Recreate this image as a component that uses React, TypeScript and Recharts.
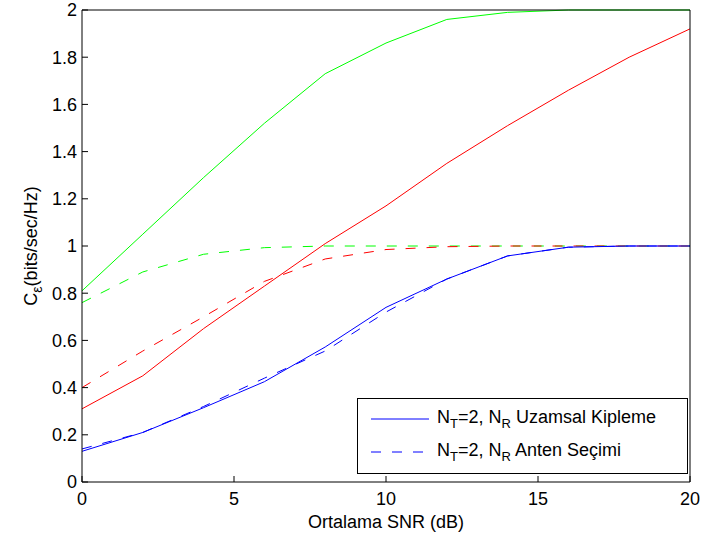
import React from 'react';
import { LineChart, Line, XAxis, YAxis, Legend, Label } from 'recharts';

// SNR (dB) values on the x axis
const snr = [0, 2, 4, 6, 8, 10, 12, 14, 16, 18, 20];

// capacity curves
const greenSolid = [0.81, 1.05, 1.29, 1.52, 1.73, 1.86, 1.96, 1.99, 2.0, 2.0, 2.0];
const greenDashed = [0.76, 0.89, 0.965, 0.993, 1.0, 1.0, 1.0, 1.0, 1.0, 1.0, 1.0];
const redSolid = [0.31, 0.45, 0.65, 0.83, 1.01, 1.17, 1.35, 1.51, 1.66, 1.8, 1.92];
const redDashed = [0.4, 0.555, 0.7, 0.85, 0.945, 0.985, 0.997, 1.0, 1.0, 1.0, 1.0];
const blueSolid = [0.13, 0.21, 0.315, 0.425, 0.572, 0.74, 0.86, 0.958, 0.995, 1.0, 1.0];
const blueDashed = [0.14, 0.21, 0.32, 0.44, 0.555, 0.72, 0.86, 0.958, 0.995, 1.0, 1.0];

const xTicks = [0, 5, 10, 15, 20];
const yTicks = [0, 0.2, 0.4, 0.6, 0.8, 1, 1.2, 1.4, 1.6, 1.8, 2];

const legendLabels = [
  { key: 'bs', a: 'N', s1: 'T', b: '=2, N', s2: 'R', c: ' Uzamsal Kipleme' },
  { key: 'bd', a: 'N', s1: 'T', b: '=2, N', s2: 'R', c: ' Anten Seçimi' },
];

const data = snr.map((s, i) => ({
  snr: s,
  gs: greenSolid[i],
  gd: greenDashed[i],
  rs: redSolid[i],
  rd: redDashed[i],
  bs: blueSolid[i],
  bd: blueDashed[i],
}));

const FONT = '"Liberation Sans", Arial, Helvetica, sans-serif';
const DASH = '10 11';

const YLabel = ({ viewBox }: any) => {
  const cx = viewBox.x + 37;
  const cy = viewBox.y + viewBox.height / 2;
  return (
    <text x={cx} y={cy} transform={`rotate(-90 ${cx} ${cy})`} textAnchor="middle"
      fontSize={18} fontFamily={FONT} fill="#000">
      C<tspan fontSize={14} dy={5}>ε</tspan><tspan dy={-5}>(bits/sec/Hz)</tspan>
    </text>
  );
};

const XLabel = ({ viewBox }: any) => (
  <text x={viewBox.x + viewBox.width / 2} y={viewBox.y + 46} textAnchor="middle"
    fontSize={18} fontFamily={FONT} fill="#000">
    Ortalama SNR (dB)
  </text>
);

const renderLegend = (props: any) => {
  const payload = props.payload || [];
  return (
    <svg width={331} height={76} style={{ display: 'block' }}>
      <rect x={0.5} y={0.5} width={330} height={75} fill="#fff" stroke="#000" strokeWidth={1} />
      {legendLabels.map((lbl, i) => {
        const p = payload.find((e: any) => e.dataKey === lbl.key) || {};
        const y = 21 + i * 33;
        return (
          <g key={lbl.key}>
            <line x1={14} x2={72} y1={y} y2={y} stroke={p.color || '#0000ff'}
              strokeDasharray={p.payload?.strokeDasharray} strokeWidth={1} />
            <text x={80} y={y + 4} fontSize={18} fontFamily={FONT} fill="#000">
              {lbl.a}<tspan fontSize={13} dy={5}>{lbl.s1}</tspan>
              <tspan dy={-5}>{lbl.b}</tspan>
              <tspan fontSize={13} dy={5}>{lbl.s2}</tspan>
              <tspan dy={-5}>{lbl.c}</tspan>
            </text>
          </g>
        );
      })}
    </svg>
  );
};

const tickStyle = { fontSize: 18, fill: '#000', fontFamily: FONT };

export default function App() {
  return (
    <div style={{ position: 'absolute', left: 0, top: 0, width: 702, height: 536, background: '#fff', fontFamily: FONT }}>
      <LineChart width={702} height={536} data={data} margin={{ top: 0, right: 0, left: 0, bottom: 0 }}>
        <XAxis dataKey="snr" type="number" domain={[0, 20]} ticks={xTicks} height={54}
          tickSize={-6} tickMargin={16} tick={tickStyle} stroke="#000" interval={0}>
          <Label content={<XLabel />} />
        </XAxis>
        <XAxis xAxisId="top" orientation="top" dataKey="snr" type="number" domain={[0, 20]} ticks={xTicks}
          height={10} tickSize={-6} tick={false} stroke="#000" interval={0} />
        <YAxis type="number" domain={[0, 2]} ticks={yTicks} width={82} tickSize={-6} tickMargin={11}
          tick={tickStyle} stroke="#000" interval={0}>
          <Label content={<YLabel />} />
        </YAxis>
        <YAxis yAxisId="right" orientation="right" type="number" domain={[0, 2]} ticks={yTicks} width={12}
          tickSize={-6} tick={false} stroke="#000" interval={0} />
        <Legend layout="vertical" verticalAlign="middle" align="center" content={renderLegend}
          wrapperStyle={{ left: 357, top: 398, width: 331, height: 76 }} />
        <Line dataKey="gs" stroke="#00ff00" strokeWidth={1} dot={false} legendType="none" isAnimationActive={false} />
        <Line dataKey="gd" stroke="#00ff00" strokeWidth={1} strokeDasharray={DASH} dot={false} legendType="none" isAnimationActive={false} />
        <Line dataKey="rs" stroke="#ff0000" strokeWidth={1} dot={false} legendType="none" isAnimationActive={false} />
        <Line dataKey="rd" stroke="#ff0000" strokeWidth={1} strokeDasharray={DASH} dot={false} legendType="none" isAnimationActive={false} />
        <Line dataKey="bs" name="Uzamsal Kipleme" stroke="#0000ff" strokeWidth={1} dot={false} isAnimationActive={false} />
        <Line dataKey="bd" name="Anten Seçimi" stroke="#0000ff" strokeWidth={1} strokeDasharray={DASH} dot={false} isAnimationActive={false} />
      </LineChart>
    </div>
  );
}
